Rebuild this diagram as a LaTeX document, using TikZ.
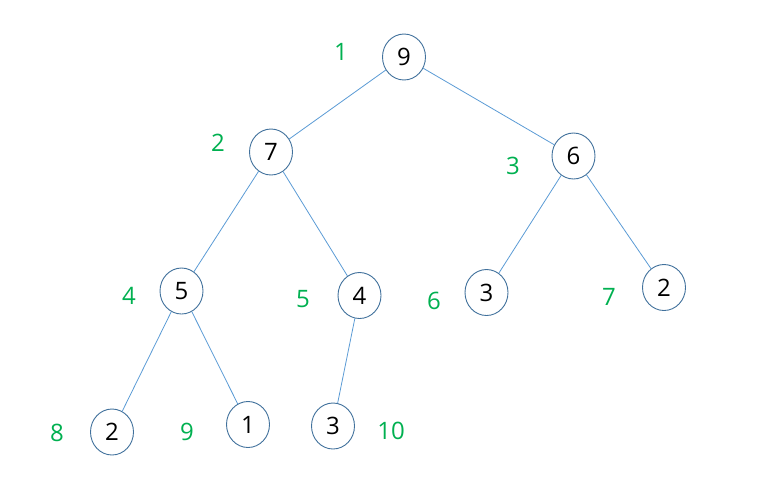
\documentclass[tikz,border=0pt]{standalone}
\usepackage{fontspec}
\setmainfont{Open Sans}
\usetikzlibrary{shapes.geometric}
\definecolor{edgeblue}{HTML}{5B9BD5}
\definecolor{ringblue}{HTML}{41719C}
\definecolor{lblgreen}{HTML}{00B050}
\tikzset{
  heapnode/.style={ellipse, draw=ringblue, line width=0.9pt, fill=white, minimum width=43pt, minimum height=46pt, inner sep=0pt, font=\fontsize{24}{28}\selectfont},
  idx/.style={text=lblgreen, inner sep=0pt, font=\fontsize{24}{28}\selectfont},
  edge/.style={draw=edgeblue, line width=0.8pt}
}
\begin{document}
\begin{tikzpicture}[x=1pt,y=-1pt]
\useasboundingbox (0,0) rectangle (781,499);
\node[heapnode] (n1) at (404,57) {9};
\node[heapnode] (n2) at (271,152) {7};
\node[heapnode] (n3) at (573.5,156) {6};
\node[heapnode] (n4) at (181.5,291) {5};
\node[heapnode] (n5) at (359.5,295.5) {4};
\node[heapnode] (n6) at (486.5,292.5) {3};
\node[heapnode] (n7) at (664,287.5) {2};
\node[heapnode] (n8) at (112,432) {2};
\node[heapnode] (n9) at (248,424.5) {1};
\node[heapnode] (n10) at (333,426) {3};
\draw[edge] (n1) -- (n2);
\draw[edge] (n1) -- (n3);
\draw[edge] (n2) -- (n4);
\draw[edge] (n2) -- (n5);
\draw[edge] (n3) -- (n6);
\draw[edge] (n3) -- (n7);
\draw[edge] (n4) -- (n8);
\draw[edge] (n4) -- (n9);
\draw[edge] (n5) -- (n10);
\node[idx] (l1) at (341,52) {1};
\node[idx] (l2) at (218,143) {2};
\node[idx] (l3) at (513,166) {3};
\node[idx] (l4) at (129,296) {4};
\node[idx] (l5) at (303,299) {5};
\node[idx] (l6) at (434,301) {6};
\node[idx] (l7) at (609,297) {7};
\node[idx] (l8) at (57,433) {8};
\node[idx] (l9) at (187,432) {9};
\node[idx] (l10) at (391,431) {10};
\end{tikzpicture}
\end{document}
